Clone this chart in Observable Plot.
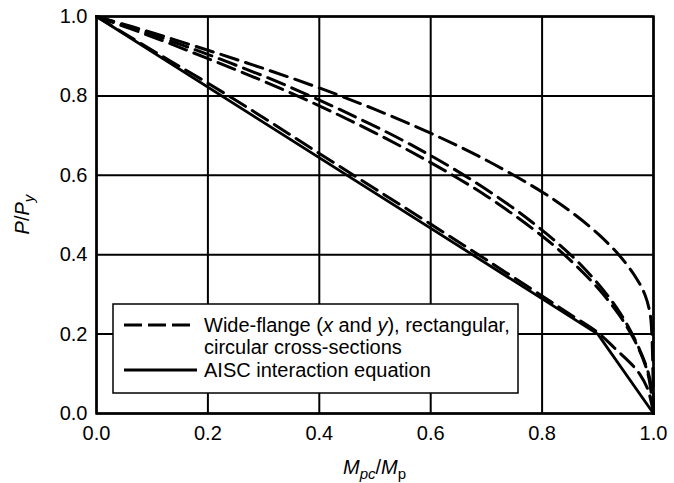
<!DOCTYPE html>
<html>
<head>
<meta charset="utf-8">
<script src="https://cdn.jsdelivr.net/npm/d3@7"></script>
<script src="https://cdn.jsdelivr.net/npm/@observablehq/plot@0.6"></script>
<style>
  html, body { margin: 0; padding: 0; background: #fff; }
  #chart svg { display: block; }
</style>
</head>
<body>
<div id="chart"></div>
<script>
// Tick values
const xTicks = [0, 0.2, 0.4, 0.6, 0.8, 1.0];
const yTicks = [0, 0.2, 0.4, 0.6, 0.8, 1.0];

// AISC interaction equation (solid)
const aiscM = [0, 0.9, 1.0];
const aiscP = [1.0, 0.2, 0.0];

// Wide-flange, strong (x) axis (dashed, near AISC line)
const wfxM = [0, 0.1, 0.2, 0.3, 0.4, 0.5, 0.6, 0.7, 0.8, 0.85, 0.9, 0.93, 0.96, 0.975, 0.99, 1.0];
const wfxP = [1.0, 0.915, 0.832, 0.745, 0.655, 0.566, 0.477, 0.387, 0.296, 0.25, 0.204, 0.165, 0.125, 0.1, 0.06, 0.0];

// Wide-flange, weak (y) axis (dashed, outermost)
const wfyM = [0, 0.05, 0.1, 0.2, 0.3, 0.4, 0.5, 0.6, 0.7, 0.8, 0.85, 0.9, 0.94, 0.97, 0.985, 0.994, 0.997, 0.999, 1.0];
const wfyP = [1.0, 0.98, 0.959, 0.915, 0.869, 0.82, 0.766, 0.706, 0.638, 0.558, 0.51, 0.453, 0.396, 0.339, 0.298, 0.25, 0.2, 0.1, 0.0];

// Rectangular cross-section (dashed)
const rectM = [0, 0.1, 0.2, 0.3, 0.4, 0.5, 0.6, 0.7, 0.8, 0.85, 0.9, 0.94, 0.97, 0.99, 1.0];
const rectP = [1.0, 0.949, 0.894, 0.837, 0.775, 0.707, 0.632, 0.548, 0.447, 0.387, 0.316, 0.245, 0.173, 0.1, 0.0];

// Circular cross-section (dashed)
const circM = [0, 0.005, 0.048, 0.158, 0.24, 0.338, 0.447, 0.562, 0.676, 0.781, 0.872, 0.941, 0.985, 0.997, 1.0];
const circP = [1.0, 0.998, 0.979, 0.926, 0.883, 0.828, 0.759, 0.679, 0.586, 0.483, 0.371, 0.251, 0.127, 0.06, 0.0];

const toRows = (ms, ps) => ms.map((m, i) => ({m, p: ps[i]}));
const dashedSeries = [toRows(wfxM, wfxP), toRows(wfyM, wfyP), toRows(rectM, rectP), toRows(circM, circP)];
const aisc = toRows(aiscM, aiscP);

const FONT = "'Liberation Sans', Arial, Helvetica, sans-serif";
const DASH = "18,8";

const chart = Plot.plot({
  width: 674,
  height: 483,
  marginLeft: 96,
  marginRight: 21,
  marginTop: 16,
  marginBottom: 70,
  style: {fontFamily: FONT, fontSize: "20px", color: "black", background: "white", overflow: "visible"},
  x: {domain: [0, 1]},
  y: {domain: [0, 1]},
  marks: [
    Plot.gridX(xTicks, {stroke: "black", strokeOpacity: 1, strokeWidth: 2}),
    Plot.gridY(yTicks, {stroke: "black", strokeOpacity: 1, strokeWidth: 2}),
    Plot.frame({stroke: "black", strokeWidth: 2.5}),
    Plot.axisX({ticks: xTicks, tickFormat: d3.format(".1f"), tickSize: 0, tickPadding: 12, label: null, fontSize: 20}),
    Plot.axisY({ticks: yTicks, tickFormat: d3.format(".1f"), tickSize: 0, tickPadding: 9, label: null, fontSize: 20}),
    ...dashedSeries.map(s => Plot.line(s, {x: "m", y: "p", stroke: "black", strokeWidth: 3, strokeDasharray: DASH, curve: "catmull-rom"})),
    Plot.line(aisc, {x: "m", y: "p", stroke: "black", strokeWidth: 2.8})
  ]
});

document.getElementById("chart").appendChild(chart);

const svg = d3.select(chart);

// x-axis title: M_pc / M_p
const xt = svg.append("text")
  .attr("x", 374.5).attr("y", 474)
  .attr("text-anchor", "middle")
  .attr("font-family", FONT).attr("font-size", 20).attr("fill", "black");
xt.append("tspan").attr("font-style", "italic").text("M");
xt.append("tspan").attr("font-style", "italic").attr("font-size", 15).attr("dy", 5).text("pc");
xt.append("tspan").attr("dy", -5).text("/");
xt.append("tspan").attr("font-style", "italic").text("M");
xt.append("tspan").attr("font-size", 15).attr("dy", 5).text("p");

// y-axis title: P / P_y
const yt = svg.append("text")
  .attr("transform", "translate(29,214.5) rotate(-90)")
  .attr("text-anchor", "middle")
  .attr("font-family", FONT).attr("font-size", 20).attr("fill", "black");
yt.append("tspan").attr("font-style", "italic").text("P");
yt.append("tspan").text("/");
yt.append("tspan").attr("font-style", "italic").text("P");
yt.append("tspan").attr("font-style", "italic").attr("font-size", 15).attr("dy", 5).text("y");

// Legend
const lg = svg.append("g").attr("font-family", FONT).attr("font-size", 20).attr("fill", "black")
  .attr("text-anchor", "start");
lg.append("rect").attr("x", 113).attr("y", 304).attr("width", 405).attr("height", 89)
  .attr("fill", "white").attr("stroke", "black").attr("stroke-width", 1.5);
lg.append("line").attr("x1", 124).attr("x2", 190).attr("y1", 325).attr("y2", 325)
  .attr("stroke", "black").attr("stroke-width", 3).attr("stroke-dasharray", "18,6");
lg.append("line").attr("x1", 124).attr("x2", 197).attr("y1", 370).attr("y2", 370)
  .attr("stroke", "black").attr("stroke-width", 2.8);
const t1 = lg.append("text").attr("x", 204).attr("y", 332).attr("text-anchor", "start");
t1.append("tspan").text("Wide-flange (");
t1.append("tspan").attr("font-style", "italic").text("x");
t1.append("tspan").text(" and ");
t1.append("tspan").attr("font-style", "italic").text("y");
t1.append("tspan").text("), rectangular,");
lg.append("text").attr("x", 204).attr("y", 354).attr("text-anchor", "start").text("circular cross-sections");
lg.append("text").attr("x", 204).attr("y", 377).attr("text-anchor", "start").text("AISC interaction equation");
</script>
</body>
</html>
